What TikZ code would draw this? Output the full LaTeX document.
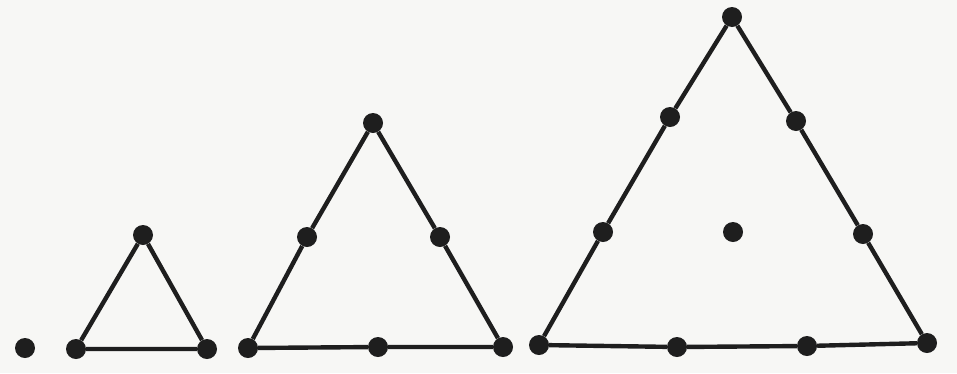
\documentclass[tikz,border=0pt]{standalone}
\definecolor{ink}{HTML}{1E1E1E}
\definecolor{paper}{HTML}{F7F7F5}
\begin{document}
\begin{tikzpicture}[x=1pt,y=-1pt,
  dot/.style={circle,fill=ink,inner sep=0pt,minimum size=20pt},
  edge/.style={draw=ink,line width=4.4pt}]
\fill[paper] (0,0) rectangle (957,373);
\useasboundingbox (0,0) rectangle (957,373);
% single dot
\node[dot] (p0) at (25,348) {};
% triangle 1
\node[dot] (a1) at (76,349) {};
\node[dot] (b1) at (207,349) {};
\node[dot] (c1) at (143,235) {};
\path[edge] (a1) -- (b1) (b1) -- (c1) (c1) -- (a1);
% triangle 2
\node[dot] (a2) at (248,348) {};
\node[dot] (m2) at (378,347) {};
\node[dot] (b2) at (503,347) {};
\node[dot] (r2) at (440,237) {};
\node[dot] (c2) at (373,123) {};
\node[dot] (l2) at (307,237) {};
\path[edge] (a2) -- (m2) (m2) -- (b2) (b2) -- (r2) (r2) -- (c2) (c2) -- (l2) (l2) -- (a2);
% triangle 3
\node[dot] (a3) at (539,345) {};
\node[dot] (m3a) at (677,347) {};
\node[dot] (m3b) at (807,346) {};
\node[dot] (b3) at (927,343) {};
\node[dot] (r3a) at (863,234) {};
\node[dot] (r3b) at (796,121) {};
\node[dot] (c3) at (732,17) {};
\node[dot] (l3b) at (670,117) {};
\node[dot] (l3a) at (603,232) {};
\node[dot] (z3) at (733,232) {};
\path[edge] (a3) -- (m3a) (m3a) -- (m3b) (m3b) -- (b3) (b3) -- (r3a) (r3a) -- (r3b) (r3b) -- (c3) (c3) -- (l3b) (l3b) -- (l3a) (l3a) -- (a3);
\end{tikzpicture}
\end{document}
